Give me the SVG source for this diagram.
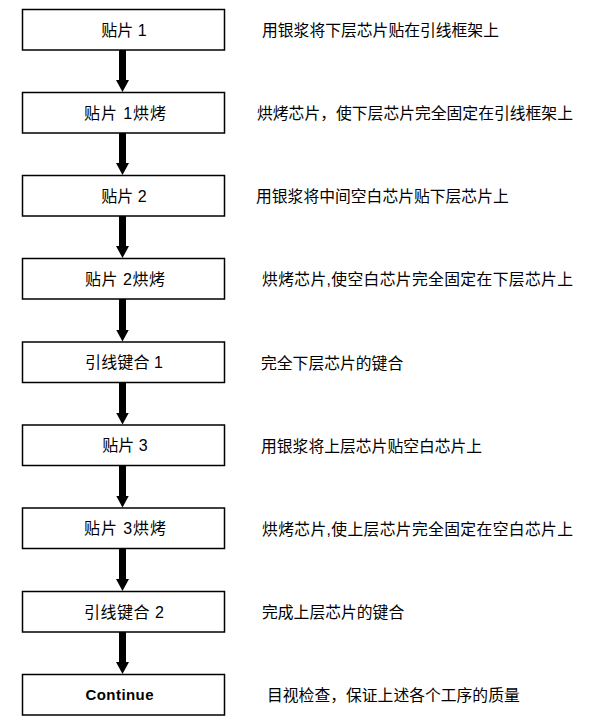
<svg xmlns="http://www.w3.org/2000/svg" width="604" height="725" viewBox="0 0 604 725">
<defs>
<style>
.box{fill:#fff;stroke:#000;stroke-width:1.5}
.lbl{font-family:"Liberation Sans","Noto Sans CJK SC",sans-serif;font-size:16px;fill:#000;text-anchor:middle}
.bold{font-weight:bold;font-size:15px}
.desc{font-family:"Liberation Sans","Noto Sans CJK SC",sans-serif;font-size:15.8px;fill:#000}
.conn{stroke:#000;stroke-width:7;fill:none}
</style>
<marker id="ah" viewBox="0 0 12 13" refX="0.5" refY="6.5" markerWidth="12" markerHeight="13" markerUnits="userSpaceOnUse" orient="auto">
<path d="M0,0 L12,6.5 L0,13 z" fill="#000"/>
</marker>
</defs>
<rect width="604" height="725" fill="#fff"/>
<g id="connectors">
<line class="conn" x1="122.5" y1="50" x2="122.5" y2="80.5" marker-end="url(#ah)"/>
<line class="conn" x1="122.5" y1="133" x2="122.5" y2="163.5" marker-end="url(#ah)"/>
<line class="conn" x1="122.5" y1="216" x2="122.5" y2="246.5" marker-end="url(#ah)"/>
<line class="conn" x1="122.5" y1="299" x2="122.5" y2="330" marker-end="url(#ah)"/>
<line class="conn" x1="122.5" y1="382.5" x2="122.5" y2="413" marker-end="url(#ah)"/>
<line class="conn" x1="122.5" y1="465.5" x2="122.5" y2="496" marker-end="url(#ah)"/>
<line class="conn" x1="122.5" y1="548.5" x2="122.5" y2="579.5" marker-end="url(#ah)"/>
<line class="conn" x1="122.5" y1="632" x2="122.5" y2="662.5" marker-end="url(#ah)"/>
</g>
<g id="node1"><rect class="box" x="22.5" y="9.5" width="202" height="40.5"/><text class="lbl" x="124" y="35.5">贴片 1</text><text class="desc" x="262" y="36">用银浆将下层芯片贴在引线框架上</text></g>
<g id="node2"><rect class="box" x="22.5" y="92.5" width="202" height="40.5"/><text class="lbl" x="125" y="118.5" textLength="82">贴片 1烘烤</text><text class="desc" x="257" y="119">烘烤芯片，使下层芯片完全固定在引线框架上</text></g>
<g id="node3"><rect class="box" x="22.5" y="175.5" width="202" height="40.5"/><text class="lbl" x="124" y="201.5">贴片 2</text><text class="desc" x="256" y="202">用银浆将中间空白芯片贴下层芯片上</text></g>
<g id="node4"><rect class="box" x="22.5" y="258.5" width="202" height="40.5"/><text class="lbl" x="125" y="284.5" textLength="80">贴片 2烘烤</text><text class="desc" x="262" y="285" textLength="311">烘烤芯片,使空白芯片完全固定在下层芯片上</text></g>
<g id="node5"><rect class="box" x="22.5" y="342" width="202" height="40.5"/><text class="lbl" x="124" y="368" textLength="78">引线键合 1</text><text class="desc" x="261" y="368.5">完全下层芯片的键合</text></g>
<g id="node6"><rect class="box" x="22.5" y="425" width="202" height="40.5"/><text class="lbl" x="125" y="451">贴片 3</text><text class="desc" x="261" y="451.5">用银浆将上层芯片贴空白芯片上</text></g>
<g id="node7"><rect class="box" x="22.5" y="508" width="202" height="40.5"/><text class="lbl" x="125" y="534" textLength="82">贴片 3烘烤</text><text class="desc" x="262" y="534.5" textLength="311">烘烤芯片,使上层芯片完全固定在空白芯片上</text></g>
<g id="node8"><rect class="box" x="22.5" y="591.5" width="202" height="40.5"/><text class="lbl" x="124" y="617.5" textLength="80">引线键合 2</text><text class="desc" x="262" y="618">完成上层芯片的键合</text></g>
<g id="node9"><rect class="box" x="22.5" y="674.5" width="202" height="40.5"/><text class="lbl bold" x="119.5" y="700" textLength="68">Continue</text><text class="desc" x="267" y="701">目视检查，保证上述各个工序的质量</text></g>
</svg>
